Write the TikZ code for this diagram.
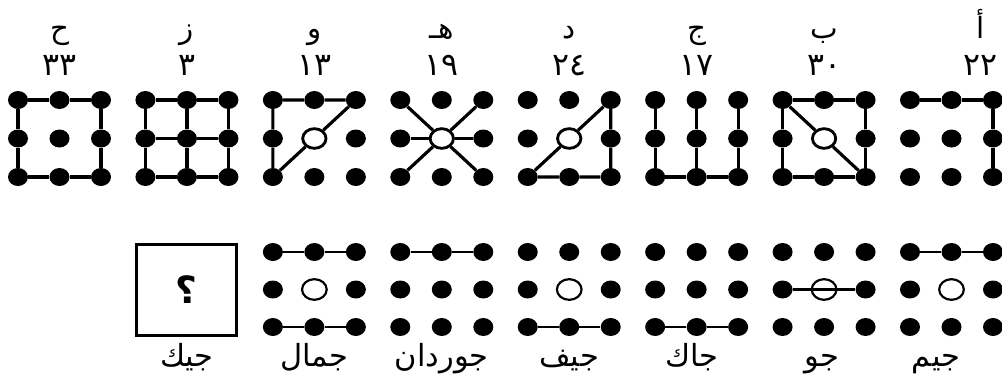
\documentclass[tikz,border=0pt]{standalone}
\usepackage{fontspec}
\usetikzlibrary{shapes.geometric}
\newfontfamily\arabicfont[Script=Arabic]{DejaVu Sans}
\TeXXeTstate=1

\tikzset{
  peg/.style={ellipse, fill=black, minimum width=6mm, minimum height=5.4mm},
  hole/.style={ellipse, draw=black, fill=white, line width=0.85mm,
    minimum width=7mm, minimum height=5.9mm},
  smallhole/.style={hole, line width=0.65mm, minimum width=7.4mm, minimum height=6.2mm},
  link/.style={black, line width=0.95mm},
  thinlink/.style={black, line width=0.65mm},
  letter/.style={font=\arabicfont\fontsize{25}{28}\selectfont, anchor=base},
  numeral/.style={font=\arabicfont\fontsize{27}{30}\selectfont, anchor=base},
  nametag/.style={font=\arabicfont\fontsize{26}{30}\selectfont, anchor=base},
  askbox/.style={draw=black, line width=0.9mm, minimum width=30mm, minimum height=27.3mm,
    font=\arabicfont\bfseries\fontsize{32}{34}\selectfont}
}

\begin{document}
\begin{tikzpicture}[x=0.3mm, y=0.3mm]
\tikzstyle{every node}+=[inner sep=0pt]
\useasboundingbox (0,0) rectangle (1002,-387);
\clip (0,0) rectangle (1002,-387);

% top row of patterns
\foreach \p in {1,...,8}
  \foreach \c in {0,1,2}
    \foreach \r in {0,1,2}
      \node[peg] (t\p\c\r) at ({18+127.43*(\p-1)+41.5*\c},{-100-38.5*\r}) {};
\node[hole] (t311) at (t311) {};
\node[hole] (t411) at (t411) {};
\node[hole] (t511) at (t511) {};
\node[hole] (t711) at (t711) {};

% bottom row of patterns
\foreach \p in {3,...,8}
  \foreach \c in {0,1,2}
    \foreach \r in {0,1,2}
      \node[peg] (b\p\c\r) at ({18+127.43*(\p-1)+41.5*\c},{-252-37.5*\r}) {};
\node[smallhole] (b311) at (b311) {};
\node[smallhole] (b511) at (b511) {};
\node[smallhole] (b711) at (b711) {};
\node[smallhole] (b811) at (b811) {};
\node[askbox] (ask) at (186.5,-290) {؟};

% top row links
\draw [link] (t100) -- (t110) -- (t120) -- (t121) -- (t122) -- (t112) -- (t102) -- (t101) -- (t100);
\draw [link] (t200) -- (t210) -- (t220) -- (t221) -- (t222) -- (t212) -- (t202) -- (t201) -- (t200);
\draw [link] (t201) -- (t211) -- (t221);
\draw [link] (t210) -- (t211) -- (t212);
\draw [link] (t302) -- (t301) -- (t300) -- (t310) -- (t320) -- (t311) -- (t302);
\draw [link] (t400) -- (t411) -- (t422);
\draw [link] (t420) -- (t411) -- (t402);
\draw [link] (t401) -- (t411) -- (t421);
\draw [link] (t502) -- (t511) -- (t520) -- (t521) -- (t522) -- (t512) -- (t502);
\draw [link] (t600) -- (t601) -- (t602) -- (t612) -- (t622) -- (t621) -- (t620);
\draw [link] (t610) -- (t611) -- (t612);
\draw [link] (t700) -- (t710) -- (t720) -- (t721) -- (t722) -- (t712) -- (t702) -- (t701) -- (t700);
\draw [link] (t700) -- (t711) -- (t722);
\draw [link] (t800) -- (t810) -- (t820) -- (t821) -- (t822);

% bottom row links
\draw [thinlink] (b300) -- (b310) -- (b320);
\draw [thinlink] (b302) -- (b312) -- (b322);
\draw [thinlink] (b400) -- (b410) -- (b420);
\draw [thinlink] (b502) -- (b512) -- (b522);
\draw [thinlink] (b602) -- (b612) -- (b622);
\draw [thinlink] (b701) -- (b721);
\draw [thinlink] (b800) -- (b810) -- (b820);

% letters and counts
\node[letter] (let1) at (59.5,-38) {\beginR ح\endR};
\node[letter] (let2) at (186.9,-38) {\beginR ز\endR};
\node[letter] (let3) at (314.4,-38) {\beginR و\endR};
\node[letter] (let4) at (441.8,-38) {\beginR هـ\endR};
\node[letter] (let5) at (569.2,-38) {\beginR د\endR};
\node[letter] (let6) at (696.7,-38) {\beginR ج\endR};
\node[letter] (let7) at (824.1,-38) {\beginR ب\endR};
\node[letter] (let8) at (981,-38) {\beginR أ\endR};
\node[numeral] (num1) at (59.5,-75) {٣٣};
\node[numeral] (num2) at (186.9,-75) {٣};
\node[numeral] (num3) at (314.4,-75) {١٣};
\node[numeral] (num4) at (441.8,-75) {١٩};
\node[numeral] (num5) at (569.2,-75) {٢٤};
\node[numeral] (num6) at (696.7,-75) {١٧};
\node[numeral] (num7) at (824.1,-75) {٣٠};
\node[numeral] (num8) at (980,-75) {٢٢};

% names
\node[nametag] (nm2) at (186.9,-366) {\beginR جيك\endR};
\node[nametag] (nm3) at (314.4,-366) {\beginR جمال\endR};
\node[nametag] (nm4) at (441.8,-366) {\beginR جوردان\endR};
\node[nametag] (nm5) at (569.2,-366) {\beginR جيف\endR};
\node[nametag] (nm6) at (692,-366) {\beginR جاك\endR};
\node[nametag] (nm7) at (822,-366) {\beginR جو\endR};
\node[nametag] (nm8) at (936,-366) {\beginR جيم\endR};
\end{tikzpicture}
\end{document}
